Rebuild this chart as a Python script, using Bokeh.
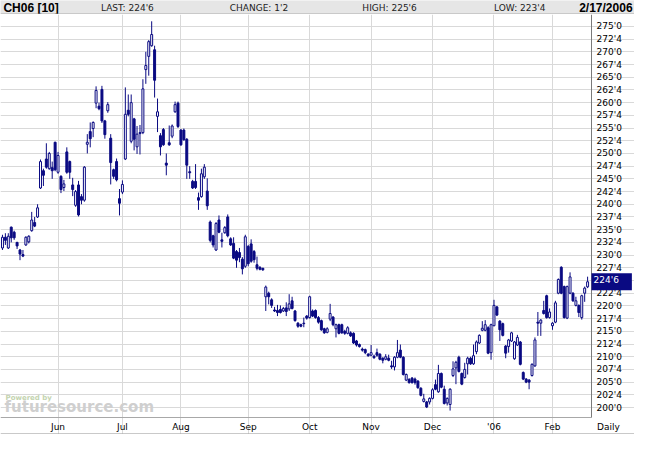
import pandas as pd
from bokeh.plotting import figure
from bokeh.models import ColumnDataSource, Range1d, FixedTicker, CustomJSTickFormatter, Label, Span
from bokeh.layouts import column
from bokeh.core.properties import value
from bokeh.embed import file_html
from bokeh.resources import INLINE

# trading calendar (CBOT holidays in range)
holidays = ["2005-05-30", "2005-07-04", "2005-09-05", "2005-11-24",
            "2005-12-26", "2006-01-02", "2006-01-16"]
dates = pd.bdate_range("2005-05-04", "2006-02-17", freq="C", holidays=holidays)

# daily OHLC, March 2006 corn (cents/bu)
opens = [231.4, 233.5, 231.4, 235.5, 234.5, 232.5, 231.0, 230.1, 232.0, 232.6,
         234.8, 236.4, 237.5, 243.2, 246.6, 248.9, 247.0, 247.2, 252.2, 246.3,
         245.5, 243.3, 250.3, 248.4, 243.8, 239.8, 243.8, 241.5, 240.8, 251.8,
         254.3, 254.9, 259.9, 259.3, 262.6, 256.4, 258.4, 253.0, 246.8, 248.4,
         241.1, 242.4, 248.9, 258.5, 252.4, 256.8, 251.3, 254.1, 254.1, 266.5,
         269.1, 271.2, 270.4, 257.3, 253.5, 254.7, 248.1, 252.1, 253.4, 258.2,
         259.9, 254.6, 254.6, 252.8, 246.4, 244.5, 244.5, 241.3, 241.5, 245.4,
         242.6, 236.5, 233.8, 231.0, 236.9, 233.0, 234.4, 237.5, 233.2, 232.3,
         230.7, 230.5, 229.2, 227.8, 231.7, 232.2, 230.7, 228.1, 227.6, 227.4,
         221.8, 222.5, 221.2, 219.2, 219.1, 219.3, 219.0, 219.6, 219.4, 221.0,
         219.0, 216.6, 216.3, 216.6, 218.0, 217.7, 219.0, 219.1, 217.7, 217.1,
         215.5, 214.8, 217.4, 217.8, 215.5, 216.3, 216.3, 215.0, 214.6, 214.7,
         214.6, 213.1, 212.4, 211.5, 211.4, 210.5, 210.3, 210.1, 210.8, 210.5,
         209.7, 209.5, 209.7, 208.2, 208.0, 209.9, 211.3, 209.9, 205.4, 205.5,
         205.8, 205.6, 205.2, 203.8, 201.2, 201.1, 201.1, 201.8, 204.5, 203.1,
         206.7, 203.6, 200.9, 200.6, 206.3, 207.8, 209.9, 206.7, 205.9, 208.6,
         209.7, 208.6, 211.0, 212.7, 215.2, 215.2, 215.7, 210.8, 216.1, 219.8,
         217.0, 216.5, 212.1, 212.0, 213.1, 209.6, 212.3, 212.9, 206.9, 205.6,
         205.4, 206.3, 208.2, 216.8, 216.6, 219.1, 222.0, 217.7, 216.1, 216.8,
         222.5, 227.6, 223.8, 217.6, 222.5, 222.5, 220.1, 220.1, 217.7, 222.5,
         223.75]
highs = [234.0, 234.3, 234.3, 235.6, 234.8, 232.6, 231.2, 231.0, 233.7, 233.9,
         238.5, 237.5, 240.0, 248.8, 247.0, 252.0, 250.3, 248.4, 252.3, 250.3,
         245.7, 244.8, 251.2, 248.6, 245.2, 242.8, 244.6, 242.0, 247.5, 253.8,
         256.1, 256.3, 263.2, 260.0, 263.3, 256.6, 260.1, 253.8, 247.0, 249.0,
         243.0, 244.7, 263.0, 261.6, 261.6, 257.0, 255.4, 255.6, 264.6, 270.0,
         272.3, 276.0, 271.2, 260.8, 254.0, 255.0, 250.0, 255.5, 255.7, 260.2,
         260.2, 254.8, 254.9, 253.0, 247.5, 244.8, 247.9, 242.3, 247.0, 247.9,
         245.1, 236.8, 234.0, 236.5, 237.8, 234.4, 235.7, 238.0, 233.5, 233.5,
         231.0, 231.4, 229.6, 234.0, 232.0, 233.1, 231.0, 229.7, 227.8, 227.5,
         224.0, 222.8, 221.5, 219.8, 220.2, 220.1, 219.8, 220.7, 222.3, 221.8,
         219.2, 216.8, 216.5, 217.7, 218.2, 222.0, 219.3, 219.3, 218.0, 217.3,
         215.7, 215.8, 220.4, 218.0, 216.5, 216.5, 216.5, 215.3, 216.0, 215.0,
         214.8, 213.3, 212.6, 211.8, 211.6, 210.7, 212.3, 210.4, 211.6, 210.7,
         209.9, 210.5, 210.4, 209.2, 210.1, 213.3, 212.4, 210.1, 206.7, 205.8,
         206.0, 205.9, 205.4, 204.0, 202.7, 201.3, 202.0, 203.8, 205.5, 208.4,
         206.9, 204.3, 202.0, 203.8, 209.1, 209.2, 210.2, 206.9, 208.8, 210.0,
         210.0, 212.4, 213.2, 214.4, 217.0, 217.2, 216.0, 216.5, 221.2, 220.0,
         217.2, 216.7, 212.3, 213.5, 214.9, 213.1, 214.3, 213.1, 207.1, 205.8,
         205.6, 208.7, 213.8, 218.8, 217.4, 221.0, 222.2, 219.5, 216.8, 221.0,
         225.4, 227.8, 224.0, 224.0, 226.6, 222.7, 221.8, 220.3, 222.2, 223.8,
         225.75]
lows = [231.0, 232.0, 231.2, 232.5, 233.0, 231.2, 229.0, 229.6, 231.8, 232.3,
        234.6, 235.5, 237.3, 243.0, 243.6, 247.0, 246.8, 245.0, 246.5, 246.0,
        242.2, 242.6, 246.0, 245.0, 241.6, 239.5, 237.6, 240.0, 240.5, 250.0,
        251.2, 253.2, 258.9, 258.5, 256.0, 252.9, 258.0, 243.9, 245.0, 244.5,
        237.8, 242.0, 248.7, 257.3, 252.0, 250.6, 249.9, 249.8, 253.8, 263.7,
        265.3, 271.0, 261.0, 254.2, 249.6, 251.5, 245.7, 251.5, 253.0, 258.0,
        255.0, 251.5, 252.5, 245.0, 245.0, 243.0, 243.0, 238.9, 241.3, 245.0,
        238.9, 232.5, 231.5, 230.8, 234.3, 231.5, 234.2, 233.5, 231.8, 229.2,
        227.5, 228.6, 226.2, 227.5, 227.8, 228.5, 228.5, 227.0, 227.0, 226.9,
        219.0, 220.3, 219.6, 218.8, 218.0, 218.5, 218.8, 218.0, 219.0, 219.3,
        216.9, 215.7, 215.8, 215.8, 217.3, 217.5, 217.8, 217.5, 216.5, 215.1,
        214.5, 214.6, 217.0, 216.0, 213.8, 214.4, 214.5, 214.3, 214.4, 213.9,
        212.5, 212.0, 211.8, 211.0, 210.5, 210.0, 210.1, 209.6, 210.0, 209.3,
        208.7, 209.3, 209.1, 207.6, 207.3, 209.7, 209.7, 206.3, 205.2, 204.7,
        204.7, 204.5, 203.7, 202.2, 201.0, 199.9, 200.6, 201.6, 203.4, 202.9,
        203.8, 200.6, 200.4, 199.4, 206.0, 204.6, 206.9, 204.4, 205.7, 206.5,
        208.4, 208.4, 210.5, 212.5, 215.0, 215.0, 210.5, 209.4, 216.0, 218.0,
        213.1, 214.0, 209.7, 210.8, 212.9, 209.4, 212.1, 208.3, 205.4, 204.8,
        203.6, 206.1, 208.0, 214.1, 214.1, 218.3, 217.5, 217.5, 215.3, 216.6,
        222.3, 222.3, 217.5, 217.4, 222.3, 220.8, 219.9, 217.8, 217.3, 220.8,
        223.5]
closes = [233.5, 232.9, 233.7, 233.4, 233.4, 231.8, 230.2, 229.8, 233.5, 233.7,
          236.9, 235.7, 239.3, 248.4, 245.7, 247.3, 250.0, 246.6, 246.8, 249.6,
          242.9, 244.0, 246.3, 246.3, 242.9, 242.5, 237.9, 240.8, 247.3, 252.2,
          252.9, 256.1, 262.4, 258.8, 256.4, 253.7, 259.6, 248.2, 245.5, 244.8,
          240.2, 243.9, 257.7, 257.7, 260.0, 252.8, 253.8, 253.9, 262.7, 267.3,
          272.0, 273.4, 264.4, 258.2, 251.3, 251.7, 247.7, 251.7, 255.4, 259.6,
          255.3, 251.7, 252.7, 247.7, 246.2, 243.2, 243.3, 240.8, 246.0, 247.3,
          239.7, 232.9, 232.0, 236.2, 234.5, 232.7, 235.4, 233.8, 232.0, 229.4,
          229.0, 229.5, 227.3, 233.6, 228.3, 228.8, 229.1, 227.4, 227.2, 227.1,
          223.7, 221.8, 220.1, 219.0, 218.7, 218.7, 219.5, 218.9, 220.4, 219.5,
          217.1, 216.0, 216.0, 216.5, 217.6, 221.8, 218.0, 217.7, 216.8, 215.3,
          214.7, 215.5, 218.5, 216.3, 216.3, 214.6, 214.7, 214.6, 215.7, 214.1,
          212.7, 212.3, 212.0, 211.3, 210.8, 210.2, 210.8, 209.8, 210.3, 209.5,
          209.3, 210.0, 209.3, 208.0, 209.9, 210.8, 209.9, 206.5, 206.5, 204.9,
          204.9, 204.9, 203.9, 202.4, 201.7, 200.1, 201.8, 203.5, 203.6, 206.7,
          204.0, 200.8, 201.8, 203.6, 207.6, 208.9, 207.1, 204.6, 207.5, 209.7,
          208.6, 210.2, 212.9, 214.2, 215.6, 216.3, 210.7, 216.3, 220.1, 218.2,
          215.3, 214.2, 210.7, 213.3, 214.7, 212.9, 213.8, 208.5, 205.6, 205.0,
          205.0, 208.5, 213.3, 216.6, 217.2, 218.5, 217.7, 218.8, 216.6, 220.6,
          225.2, 222.5, 217.7, 223.8, 225.7, 221.0, 221.0, 218.7, 222.0, 223.5,
          224.75]

price_ticks = [200.0, 202.5, 205.0, 207.5, 210.0, 212.5, 215.0, 217.5, 220.0, 222.5,
               225.0, 227.5, 230.0, 232.5, 235.0, 237.5, 240.0, 242.5, 245.0, 247.5,
               250.0, 252.5, 255.0, 257.5, 260.0, 262.5, 265.0, 267.5, 270.0, 272.5,
               275.0]
month_names = {6: "Jun", 7: "Jul", 8: "Aug", 9: "Sep", 10: "Oct",
               11: "Nov", 12: "Dec", 1: "'06", 2: "Feb"}

last_label = "224'6"
header_items = [("CH06 [10]", 3, "left", True), ("LAST: 224'6", 103, "left", False),
                ("CHANGE: 1'2", 235, "left", False), ("HIGH: 225'6", 371, "left", False),
                ("LOW: 223'4", 506, "left", False), ("2/17/2006", 648, "right", True)]

NAVY = "#0a0a82"
GRID = "#d9d9d9"

# visible price window and the bar window; the frame also spans the
# label strips on the right and below, so the ranges are padded for them
P_LO, P_HI = 198.04, 277.34
X_LO, X_HI = -0.67, 201.33
FRAME_W, FRAME_H = 634, 420
PLOT_W, PLOT_H = 591, 403
x_end = X_LO + (X_HI - X_LO) * FRAME_W / PLOT_W
y_start = P_HI - (P_HI - P_LO) * FRAME_H / PLOT_H

idx = list(range(len(dates)))
month_ticks = [i for i in idx[1:] if dates[i].month != dates[i - 1].month]
month_labels = {i: month_names[dates[i].month] for i in month_ticks}

source = ColumnDataSource(dict(
    x=idx, high=highs, low=lows,
    top=[max(o, c) for o, c in zip(opens, closes)],
    bottom=[min(o, c) for o, c in zip(opens, closes)],
    fill=["white" if c >= o else NAVY for o, c in zip(opens, closes)],
))

# header strip
h = figure(width=634, height=14, x_range=Range1d(0, 650), y_range=Range1d(0, 15),
           toolbar_location=None, output_backend="svg", min_border=0)
h.background_fill_color = "#e6e6e6"
h.border_fill_color = "#e6e6e6"
h.outline_line_color = None
h.axis.visible = False
h.grid.visible = False
for txt, xpos, align, bold in header_items:
    h.text(x=[xpos], y=[7.5], text=[txt], text_align=align, text_baseline="middle",
           text_font=value("Liberation Sans" if bold else "DejaVu Sans"),
           text_font_size="12px" if bold else "9px",
           text_font_style="bold" if bold else "normal",
           text_color="#000000" if bold else "#222222")
h.add_layout(Span(location=0.4, dimension="width", line_color="#9a9a9a", line_width=1))

# main chart
p = figure(width=FRAME_W, height=FRAME_H, x_range=Range1d(X_LO, x_end),
           y_range=Range1d(y_start, P_HI), y_axis_location="right",
           toolbar_location=None, output_backend="svg", min_border=0)
p.outline_line_color = None
p.background_fill_color = "white"
p.border_fill_color = "white"

p.ygrid.ticker = FixedTicker(ticks=price_ticks)
p.xgrid.ticker = FixedTicker(ticks=month_ticks)
p.ygrid.bounds = (X_LO, X_HI)
p.xgrid.bounds = (P_LO, P_HI)
p.grid.grid_line_color = GRID
p.grid.grid_line_width = 1

p.segment(x0="x", y0="high", x1="x", y1="low", source=source, line_color=NAVY, line_width=1)
p.vbar(x="x", width=0.67, top="top", bottom="bottom", source=source,
       fill_color="fill", line_color=NAVY, line_width=1)

ya = p.yaxis[0]
ya.fixed_location = X_HI
ya.bounds = (P_LO, P_HI)
ya.ticker = FixedTicker(ticks=[t for t in price_ticks if abs(t - closes[-1]) > 1.5])
ya.formatter = CustomJSTickFormatter(code="""
    const c = Math.floor(tick);
    const e = Math.round((tick - c) * 8);
    return c + "'" + e;
""")
ya.axis_line_color = "#7a7a7a"
ya.major_tick_line_color = None
ya.major_tick_out = 0
ya.major_tick_in = 0
ya.minor_tick_line_color = None
ya.minor_tick_out = 0
ya.major_label_standoff = 5
ya.major_label_text_font = "DejaVu Sans"
ya.major_label_text_font_size = "9px"
ya.major_label_text_color = "#000000"

xa = p.xaxis[0]
xa.fixed_location = P_LO
xa.bounds = (X_LO, X_HI)
xa.ticker = FixedTicker(ticks=month_ticks)
xa.major_label_overrides = month_labels
xa.axis_line_color = "#a8a8a8"
xa.major_tick_line_color = None
xa.major_tick_out = 0
xa.major_tick_in = 0
xa.minor_tick_line_color = None
xa.minor_tick_out = 0
xa.major_label_standoff = 4
xa.major_label_text_font = "DejaVu Sans"
xa.major_label_text_font_size = "9px"
xa.major_label_text_color = "#000000"

p.add_layout(Span(location=y_start + 0.12, dimension="width", line_color="#a8a8a8", line_width=1))

# last price marker on the price axis
p.add_layout(Label(x=X_HI, y=closes[-1], text=last_label,
                   text_color="white", text_font="DejaVu Sans", text_font_size="9px",
                   text_baseline="middle", background_fill_color=NAVY,
                   padding=(2, 13, 2, 5)))
p.add_layout(Label(x=608, y=8, x_units="screen", y_units="screen", text="Daily",
                   text_align="center", text_baseline="middle", text_color="#000000",
                   text_font="DejaVu Sans", text_font_size="9px"))

# watermark
p.add_layout(Label(x=5, y=33, x_units="screen", y_units="screen", text="Powered by",
                   text_color="#c4d4b0", text_font="DejaVu Sans", text_font_size="7px",
                   text_font_style="bold"))
p.add_layout(Label(x=4, y=19, x_units="screen", y_units="screen", text="futuresource.com",
                   text_color="#cfcfcf", text_font="DejaVu Sans", text_font_size="15px",
                   text_font_style="bold"))

layout = column(h, p, spacing=0)
open("out.html", "w").write(file_html(layout, INLINE))
